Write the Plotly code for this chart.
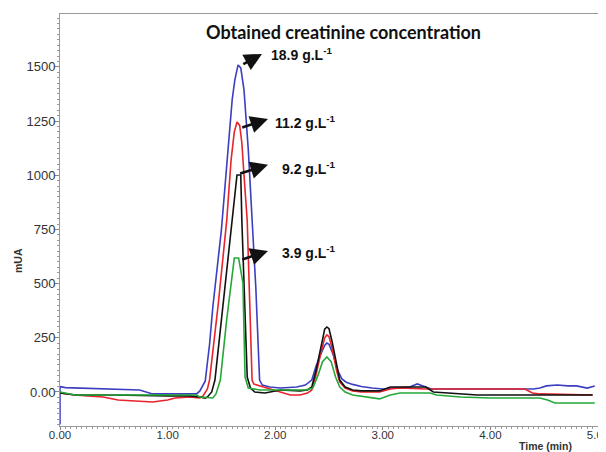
import plotly.graph_objects as go

# ---- data (time in min, absorbance in mUA) ----
blue_t = [0.0, 0.0, 0.05, 0.37, 0.74, 0.86, 1.27, 1.30, 1.35, 1.39, 1.42, 1.50, 1.55, 1.60, 1.625, 1.655,
          1.68, 1.70, 1.71, 1.75, 1.79, 1.82, 1.855, 1.88, 1.95, 2.05, 2.20, 2.28, 2.34, 2.38, 2.42, 2.46,
          2.48, 2.50, 2.54, 2.58, 2.62, 2.66, 2.72, 2.80, 2.90, 3.00, 3.10, 3.25, 3.32, 3.38, 3.45, 4.40,
          4.46, 4.52, 4.62, 4.72, 4.80, 4.90, 4.97]
blue_v = [-150, 25, 20, 14, 9, -9, -9, 5, 51, 220, 390, 748, 1070, 1348, 1440, 1509,
          1495, 1430, 1394, 1117, 771, 480, 55, 32, 23, 18, 23, 32, 55, 120, 171, 215,
          226, 220, 171, 100, 60, 45, 35, 25, 18, 14, 18, 23, 37, 28, 14, 14,
          18, 28, 32, 28, 28, 18, 28]

red_t = [0.0, 0.14, 0.26, 0.40, 0.54, 0.86, 1.00, 1.07, 1.20, 1.30, 1.33, 1.37, 1.39, 1.47, 1.55, 1.59,
         1.62, 1.645, 1.67, 1.69, 1.71, 1.74, 1.785, 1.80, 1.86, 1.95, 2.05, 2.14, 2.23, 2.30, 2.34, 2.38,
         2.42, 2.46, 2.48, 2.50, 2.53, 2.57, 2.60, 2.65, 2.72, 2.80, 2.97, 3.07, 3.16, 3.40, 4.32, 4.39,
         4.46, 4.95]
red_v = [-5, -14, -18, -23, -37, -46, -37, -28, -23, -28, -18, 14, 55, 402, 794, 1070,
         1200, 1246, 1230, 1150, 1000, 790, 55, 37, 28, 14, 0, -14, -14, -5, 9, 80,
         170, 250, 263, 255, 200, 100, 45, 18, 5, 0, 0, 14, 18, 14, 14, -5,
         -9, -14]

black_t = [0.0, 0.14, 0.26, 0.50, 1.00, 1.20, 1.30, 1.35, 1.37, 1.39, 1.41, 1.44, 1.515, 1.60, 1.645, 1.68,
           1.69, 1.74, 1.77, 1.81, 1.905, 2.05, 2.23, 2.30, 2.34, 2.38, 2.42, 2.46, 2.48, 2.50, 2.53, 2.57,
           2.60, 2.65, 2.72, 2.80, 2.97, 3.07, 3.16, 3.40, 3.47, 3.88, 4.95]
black_v = [-5, -14, -14, -14, -18, -18, -23, -28, -23, -9, 0, 55, 402, 794, 1001, 1001,
           794, 69, 18, 0, -5, 9, 5, 9, 23, 100, 200, 290, 300, 292, 230, 120,
           55, 23, 9, 5, 5, 23, 23, 23, 0, -14, -14]

green_t = [0.0, 0.10, 0.14, 1.27, 1.30, 1.42, 1.45, 1.49, 1.55, 1.62, 1.66, 1.70, 1.72, 1.75, 1.86, 2.14,
           2.28, 2.35, 2.40, 2.44, 2.48, 2.52, 2.56, 2.60, 2.65, 2.72, 2.85, 2.97, 3.07, 3.16, 3.44, 3.50,
           3.72, 4.00, 4.46, 4.53, 4.60, 4.97]
green_v = [0, -9, -14, -14, -23, -28, -9, 55, 337, 618, 618, 503, 69, 18, 9, 9,
           9, 18, 80, 140, 162, 140, 70, 23, 0, -14, -23, -32, -14, -5, -5, -14,
           -23, -28, -28, -37, -51, -51]

labels = ["<b>18.9 g.L<sup>-1</sup></b>", "<b>11.2 g.L<sup>-1</sup></b>",
          "<b>9.2 g.L<sup>-1</sup></b>", "<b>3.9 g.L<sup>-1</sup></b>"]
label_t = [1.94, 1.98, 2.045, 2.045]
label_v = [1560, 1246, 1034, 646]
arrow_tail_t = [1.69, 1.68, 1.66, 1.68]
arrow_tail_v = [1509, 1218, 1006, 609]
arrow_head_t = [1.877, 1.933, 1.933, 1.933]
arrow_head_v = [1560, 1260, 1048, 651]

x_tickvals = [0, 1, 2, 3, 4, 5]
x_ticktext = ["0.00", "1.00", "2.00", "3.00", "4.00", "5.00"]
y_tickvals = [0, 250, 500, 750, 1000, 1250, 1500]
y_ticktext = ["0.00", "250", "500", "750", "1000", "1250", "1500"]

fig = go.Figure()
for t, v, c in [(blue_t, blue_v, "#3b3fc0"), (red_t, red_v, "#e8232b"),
                (black_t, black_v, "#111111"), (green_t, green_v, "#25a83a")]:
    fig.add_trace(go.Scatter(x=t, y=v, mode="lines", line=dict(color=c, width=1.6),
                             showlegend=False, hoverinfo="skip"))

for i in range(len(labels)):
    fig.add_annotation(x=arrow_head_t[i], y=arrow_head_v[i], ax=arrow_tail_t[i], ay=arrow_tail_v[i],
                       axref="x", ayref="y", xref="x", yref="y", text="", showarrow=True,
                       arrowhead=2, arrowsize=1.35, arrowwidth=2.6, arrowcolor="#111111")
    fig.add_annotation(x=label_t[i], y=label_v[i], xref="x", yref="y", text=labels[i],
                       showarrow=False, xanchor="left", yanchor="middle",
                       font=dict(family="Liberation Sans, Arial", size=14, color="#111111"))

# plot area on screen: x 60..598, y 14..426 (page body adds an 8px offset)
PW, PH = 538, 412
fig.add_annotation(x=(343 - 60) / PW, y=(426 - 32) / PH, xref="paper", yref="paper",
                   xanchor="center", yanchor="middle",
                   text="<b>Obtained creatinine concentration</b>",
                   showarrow=False, font=dict(family="Lato", size=18, color="#111111"))

fig.update_layout(
    width=606, height=452,
    margin=dict(l=52, r=16, t=6, b=34, autoexpand=False),
    paper_bgcolor="white", plot_bgcolor="white",
    font=dict(family="Liberation Sans, Arial", size=12, color="#333333"),
    xaxis=dict(range=[0, 5], tickvals=x_tickvals, ticktext=x_ticktext, ticks="outside", ticklen=3,
               tickcolor="#888888", showgrid=False, zeroline=False, showline=True, linecolor="#999999",
               linewidth=1, mirror=True, tickfont=dict(size=11.5), automargin=False,
               ticklabelstandoff=-5,
               minor=dict(dtick=0.05, ticks="outside", ticklen=2, tickcolor="#999999", showgrid=False)),
    yaxis=dict(range=[-157, 1744], tickvals=y_tickvals, ticktext=y_ticktext, ticks="outside", ticklen=4,
               tickcolor="#888888", showgrid=False, zeroline=False, showline=True, linecolor="#999999",
               linewidth=1, mirror=True, tickfont=dict(size=13), automargin=False,
               ticklabelstandoff=-3,
               minor=dict(dtick=25, ticks="outside", ticklen=2, tickcolor="#999999", showgrid=False)),
)
# axis titles as annotations
fig.add_annotation(x=(18 - 60) / PW, y=(426 - 261) / PH, xref="paper", yref="paper", text="<b>mUA</b>",
                   textangle=-90, xanchor="center", yanchor="middle",
                   showarrow=False, font=dict(size=10.5, color="#333333"))
fig.add_annotation(x=(545 - 60) / PW, y=(426 - 446) / PH, xref="paper", yref="paper",
                   text="<b>Time (min)</b>", xanchor="center", yanchor="middle",
                   showarrow=False, font=dict(size=10.5, color="#333333"))

fig.write_html("out.html")
